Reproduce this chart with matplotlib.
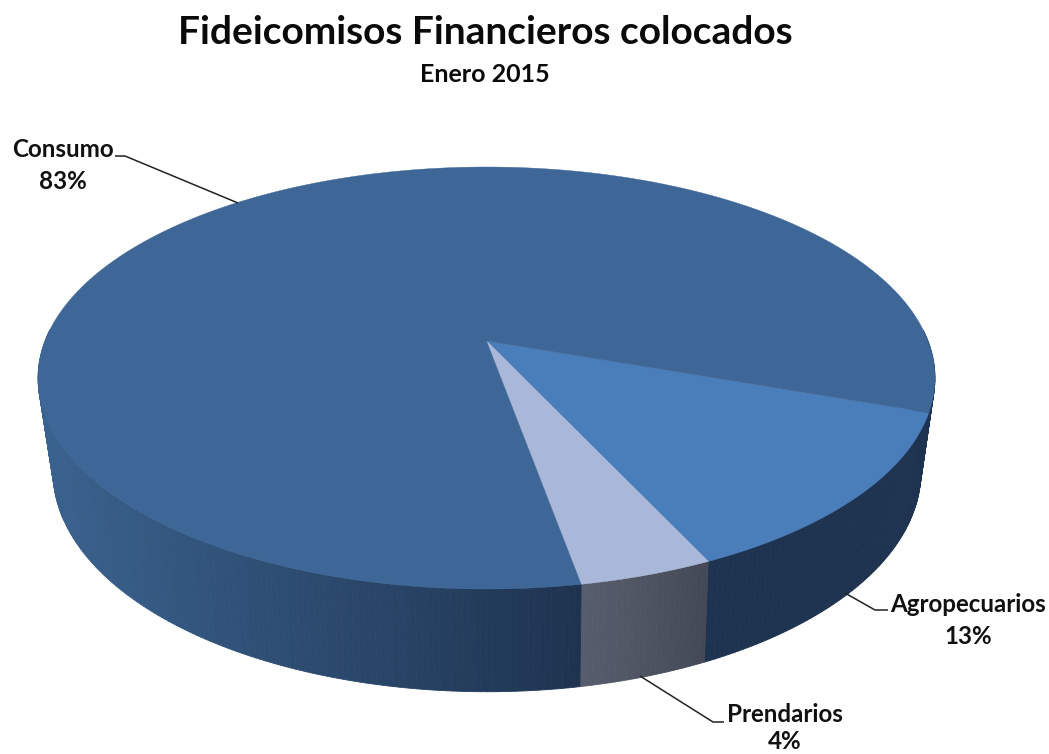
import numpy as np
import matplotlib
matplotlib.use("Agg")
import matplotlib.pyplot as plt
from matplotlib.collections import PolyCollection
from matplotlib.colors import to_rgb
from matplotlib.patches import Polygon

categories = ["Agropecuarios", "Prendarios", "Consumo"]
values = [12.7, 4.1, 83.2]
title = "Fideicomisos Financieros colocados"
subtitle = "Enero 2015"

start_deg = -19.3
top_colors = {"Agropecuarios": "#4a7ebb", "Prendarios": "#a9b8d8", "Consumo": "#3e6797"}
side_ramps = {
    "Agropecuarios": ("#1e3350", "#1e3350"),
    "Prendarios": ("#585e6d", "#434956"),
    "Consumo": ("#3a628e", "#1e3350"),
}
label_pos = {"Consumo": (63, 165.5), "Agropecuarios": (968, 620.5), "Prendarios": (785, 728)}
label_spacing = {"Consumo": 1.5, "Agropecuarios": 1.45, "Prendarios": 1.25}
leaders = {
    "Consumo": [(115, 156), (125, 156), (238, 203)],
    "Agropecuarios": [(845, 593), (875, 610), (888, 610)],
    "Prendarios": [(640, 676), (713, 722), (724, 722)],
}

plt.rcParams["font.family"] = ["Lato", "DejaVu Sans"]
fig = plt.figure(figsize=(10.49, 7.54), dpi=100, facecolor="white")
ax = fig.add_axes([0, 0, 1, 1])
ax.set_xlim(0, 1049)
ax.set_ylim(754, 0)
ax.axis("off")


def proj(theta, cx, cy, a, b, k):
    x, y = np.cos(theta), np.sin(theta)
    d = 1 + k * y
    return np.column_stack([cx + a * x / d, cy - b * y / d])


TOP = dict(cx=486.5, cy=341, a=441.5, b=204.5, k=0.1754)
BOT = dict(cx=487, cy=430, a=426, b=212, k=0.19)

# slice angles, clockwise from the start angle
fracs = np.array(values) / sum(values)
edges = np.radians(start_deg) - 2 * np.pi * np.concatenate([[0], np.cumsum(fracs)])


def ramp(c0, c1, t):
    c0, c1 = np.array(to_rgb(c0)), np.array(to_rgb(c1))
    return tuple(c0 + (c1 - c0) * np.clip(t, 0, 1))


# side wall
quads, cols = [], []
for i, name in enumerate(categories):
    th = np.linspace(edges[i], edges[i + 1], max(int(abs(edges[i + 1] - edges[i]) * 90), 12))
    pt, pb = proj(th, **TOP), proj(th, **BOT)
    front = np.sin(th) < 0.05
    xmin, xmax = pt[front, 0].min(), pt[0, 0]
    for j in range(len(th) - 1):
        if not (front[j] or front[j + 1]):
            continue
        q = [pt[j], pt[j + 1], pb[j + 1], pb[j]]
        xm = (pt[j, 0] + pt[j + 1, 0]) / 2
        t = (xm - xmin) / max(xmax - xmin, 1)
        quads.append(q)
        cols.append(ramp(*side_ramps[name], t))
ax.add_collection(PolyCollection(quads, facecolors=cols, edgecolors=cols, linewidths=0.6, zorder=1))

# top face
for i, name in enumerate(categories):
    th = np.linspace(edges[i], edges[i + 1], 400)
    pts = np.vstack([[TOP["cx"], TOP["cy"]], proj(th, **TOP)])
    ax.add_patch(Polygon(pts, closed=True, facecolor=top_colors[name], edgecolor=top_colors[name],
                         linewidth=0.3, zorder=2))

# leaders and labels
for name, v in zip(categories, values):
    xs, ys = zip(*leaders[name])
    ax.plot(xs, ys, color="#222222", lw=1.1, zorder=3, solid_capstyle="butt")
    x, y = label_pos[name]
    ax.text(x, y, f"{name}\n{v:.0f}%", ha="center", va="center", fontsize=17.4, fontweight="bold",
            color="#111111", linespacing=label_spacing[name], zorder=4)

ax.text(485.5, 32, title, ha="center", va="center", fontsize=28, fontweight="bold", color="#0a0a0a")
ax.text(485, 75, subtitle, ha="center", va="center", fontsize=18, fontweight="bold", color="#0a0a0a")

fig.savefig("out.png", dpi=100, facecolor="white")
